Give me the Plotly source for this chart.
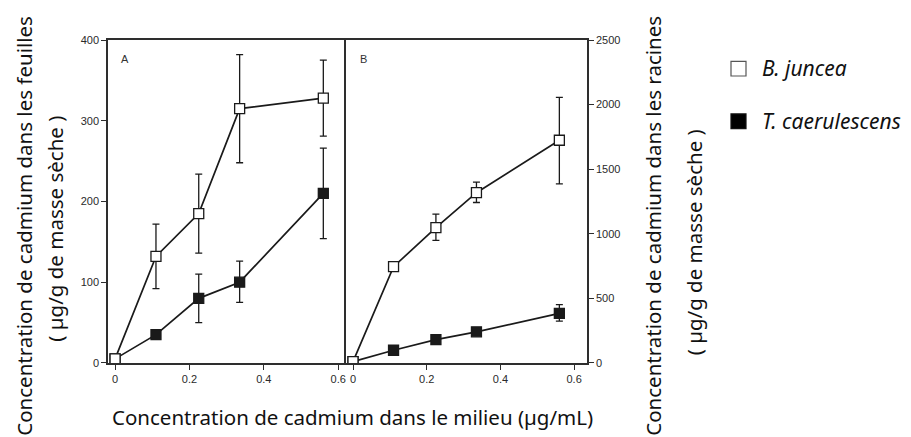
import plotly.graph_objects as go

# ---- data ----
x_conc = [0, 0.11, 0.225, 0.335, 0.56]

# Panel A: leaves (µg/g dry mass)
leaf_juncea = [5, 132, 185, 315, 328]
leaf_juncea_err_plus = [None, 40, 49, 67, 47]
leaf_juncea_err_minus = [None, 40, 49, 67, 47]
leaf_caer = [5, 35, 80, 100, 210]
leaf_caer_err_plus = [None, None, 30, 26, 56]
leaf_caer_err_minus = [None, None, 30, 25, 56]

# Panel B: roots (µg/g dry mass)
root_juncea = [10, 745, 1047, 1318, 1724]
root_juncea_err_plus = [None, None, 105, 82, 332]
root_juncea_err_minus = [None, None, 98, 76, 338]
root_caer = [10, 98, 180, 241, 384]
root_caer_err_plus = [None, None, None, None, 68]
root_caer_err_minus = [None, None, None, None, 60]

x_ticks = [0, 0.2, 0.4, 0.6]
x_tick_labels = ["0", "0.2", "0.4", "0.6"]
leaf_ticks = [0, 100, 200, 300, 400]
root_ticks = [0, 500, 1000, 1500, 2000, 2500]

series_names = ["B. juncea", "T. caerulescens"]

W, H = 911, 437
ink = "#1a1a1a"
axis_col = "#2e2e2e"


def px(x):
    return x / W


def py(y):
    return 1 - y / H


fig = go.Figure()


def add_series(xa, ya, yvals, ep, em, filled):
    fig.add_trace(go.Scatter(
        x=x_conc, y=yvals, xaxis=xa, yaxis=ya, mode="lines+markers",
        line=dict(color=ink, width=1.7),
        marker=dict(symbol="square", size=10,
                    color=ink if filled else "white",
                    line=dict(color=ink, width=1.3)),
        error_y=dict(type="data", array=ep, arrayminus=em, symmetric=False,
                     color=ink, thickness=1.3, width=3.5),
        showlegend=False, hoverinfo="skip"))


add_series("x", "y", leaf_caer, leaf_caer_err_plus, leaf_caer_err_minus, True)
add_series("x", "y", leaf_juncea, leaf_juncea_err_plus, leaf_juncea_err_minus, False)
add_series("x2", "y2", root_caer, root_caer_err_plus, root_caer_err_minus, True)
add_series("x2", "y2", root_juncea, root_juncea_err_plus, root_juncea_err_minus, False)

tick_font = dict(family="Liberation Sans, Arial, sans-serif", size=11, color="#2a2a2a")
ax_common = dict(showline=True, linecolor=axis_col, linewidth=1.6,
                 ticks="outside", ticklen=5, tickcolor=axis_col, tickwidth=1.3,
                 showgrid=False, zeroline=False, tickfont=tick_font)

ydom = [py(367), py(35)]
fig.update_layout(
    width=W, height=H, autosize=False,
    margin=dict(l=0, r=0, t=0, b=0),
    paper_bgcolor="white", plot_bgcolor="white",
    xaxis=dict(domain=[px(108), px(346)], range=[-0.019, 0.621],
               tickvals=x_ticks, ticktext=x_tick_labels, anchor="y", mirror=True,
               **ax_common),
    yaxis=dict(domain=ydom, range=[0, 400], tickvals=leaf_ticks, anchor="x",
               side="left", mirror=False, **ax_common),
    xaxis2=dict(domain=[px(346), px(587)], range=[-0.019, 0.635],
                tickvals=x_ticks, ticktext=x_tick_labels, anchor="y2", mirror=True,
                **ax_common),
    yaxis2=dict(domain=ydom, range=[0, 2500], tickvals=root_ticks, anchor="x2",
                side="right", mirror=True, **ax_common),
)

title_font = dict(family="Noto Sans, Open Sans, sans-serif", size=20.5, color="#111111")
leg_font = dict(family="Noto Sans, Open Sans, sans-serif", size=21, color="#111111")
anns = [
    dict(text="A", x=px(125), y=py(55), font=dict(family="Liberation Sans", size=11, color="#333")),
    dict(text="B", x=px(363), y=py(55), font=dict(family="Liberation Sans", size=11, color="#333")),
    dict(text="Concentration de cadmium dans le milieu (µg/mL)", x=px(352), y=py(423),
         font=title_font),
    dict(text="Concentration de cadmium dans les feuilles", x=px(24), y=py(226),
         textangle=-90, font=title_font),
    dict(text="( µg/g de masse sèche )", x=px(55), y=py(229), textangle=-90, font=title_font),
    dict(text="Concentration de cadmium dans les racines", x=px(653), y=py(226),
         textangle=-90, font=title_font),
    dict(text="( µg/g de masse sèche )", x=px(694), y=py(243), textangle=-90, font=title_font),
    dict(text="<i>" + series_names[0] + "</i>", x=px(760), y=py(64), xanchor="left",
         font=leg_font),
    dict(text="<i>" + series_names[1] + "</i>", x=px(760), y=py(118), xanchor="left",
         font=leg_font),
]
for a in anns:
    a.setdefault("xanchor", "center")
    a.update(xref="paper", yref="paper", yanchor="middle", showarrow=False)
fig.update_layout(annotations=anns)

fig.update_layout(shapes=[
    dict(type="rect", xref="paper", yref="paper", x0=px(731), x1=px(746),
         y0=py(72), y1=py(57), line=dict(color="#555", width=1.2), fillcolor="white"),
    dict(type="rect", xref="paper", yref="paper", x0=px(731), x1=px(746),
         y0=py(126), y1=py(111), line=dict(color="#111", width=1.2), fillcolor="#000"),
])

fig.write_html("out.html")
